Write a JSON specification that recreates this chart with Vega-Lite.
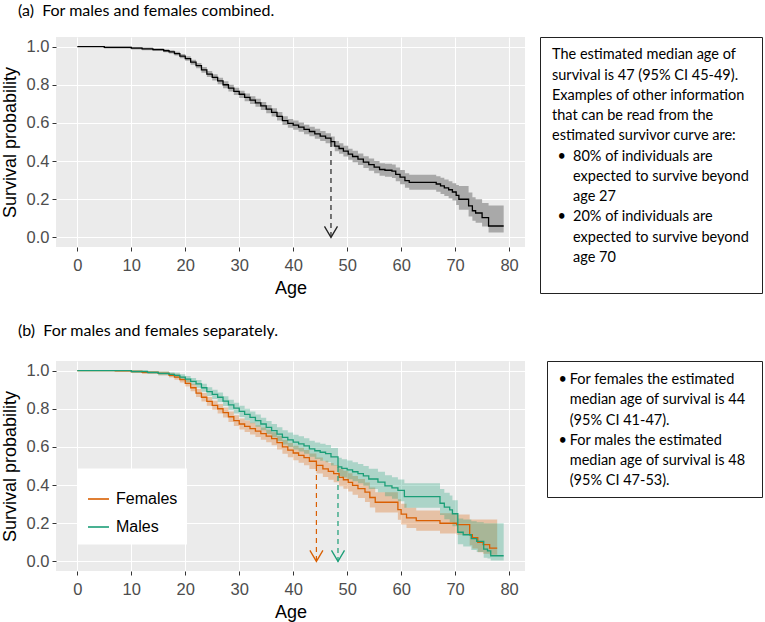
{
  "$schema": "https://vega.github.io/schema/vega-lite/v6.json",
  "padding": {"left": 1, "top": 2, "right": 0, "bottom": 0},
  "background": "white",
  "spacing": 24,
  "config": {
    "font": "Liberation Sans",
    "title": {"font": "Lato", "fontSize": 16, "fontWeight": "normal", "color": "black", "anchor": "start"},
    "axis": {"domain": false, "gridColor": "white", "tickColor": "#333333", "tickSize": 4, "labelColor": "#4d4d4d", "labelFont": "Liberation Sans", "labelFontSize": 16.5, "titleFont": "Liberation Sans", "titleFontSize": 18, "titleFontWeight": "normal", "titleColor": "black", "labelOverlap": false, "labelFlush": false, "labelBound": false}
  },
  "datasets": {
    "all": [
      {"age":0,"s":1,"lo":1,"hi":1},{"age":5,"s":0.996,"lo":0.99,"hi":1},{"age":10,"s":0.992,"lo":0.985,"hi":0.998},{"age":12,"s":0.988,"lo":0.98,"hi":0.995},{"age":14,"s":0.984,"lo":0.977,"hi":0.991},{"age":16,"s":0.978,"lo":0.97,"hi":0.986},{"age":17,"s":0.972,"lo":0.963,"hi":0.981},{"age":18,"s":0.963,"lo":0.953,"hi":0.973},{"age":19,"s":0.95,"lo":0.939,"hi":0.961},{"age":20,"s":0.937,"lo":0.925,"hi":0.949},{"age":21,"s":0.918,"lo":0.905,"hi":0.931},{"age":22,"s":0.9,"lo":0.886,"hi":0.914},{"age":23,"s":0.878,"lo":0.863,"hi":0.893},{"age":24,"s":0.856,"lo":0.84,"hi":0.872},{"age":25,"s":0.838,"lo":0.822,"hi":0.855},{"age":26,"s":0.82,"lo":0.803,"hi":0.837},{"age":27,"s":0.8,"lo":0.782,"hi":0.818},{"age":28,"s":0.782,"lo":0.764,"hi":0.8},{"age":29,"s":0.765,"lo":0.746,"hi":0.784},{"age":30,"s":0.75,"lo":0.731,"hi":0.769},{"age":31,"s":0.734,"lo":0.714,"hi":0.754},{"age":32,"s":0.719,"lo":0.699,"hi":0.739},{"age":33,"s":0.705,"lo":0.684,"hi":0.726},{"age":34,"s":0.689,"lo":0.668,"hi":0.71},{"age":35,"s":0.672,"lo":0.65,"hi":0.694},{"age":36,"s":0.655,"lo":0.633,"hi":0.677},{"age":37,"s":0.634,"lo":0.612,"hi":0.657},{"age":38,"s":0.612,"lo":0.589,"hi":0.635},{"age":39,"s":0.598,"lo":0.575,"hi":0.621},{"age":40,"s":0.588,"lo":0.564,"hi":0.612},{"age":41,"s":0.578,"lo":0.554,"hi":0.602},{"age":42,"s":0.566,"lo":0.541,"hi":0.591},{"age":43,"s":0.555,"lo":0.53,"hi":0.58},{"age":44,"s":0.543,"lo":0.517,"hi":0.569},{"age":45,"s":0.531,"lo":0.505,"hi":0.557},{"age":46,"s":0.52,"lo":0.494,"hi":0.546},{"age":47,"s":0.502,"lo":0.475,"hi":0.529},{"age":47.7,"s":0.478,"lo":0.451,"hi":0.505},{"age":48.5,"s":0.466,"lo":0.438,"hi":0.494},{"age":49.3,"s":0.452,"lo":0.424,"hi":0.48},{"age":50.2,"s":0.436,"lo":0.407,"hi":0.465},{"age":51,"s":0.424,"lo":0.394,"hi":0.454},{"age":52,"s":0.41,"lo":0.38,"hi":0.44},{"age":53,"s":0.395,"lo":0.364,"hi":0.426},{"age":54,"s":0.382,"lo":0.35,"hi":0.414},{"age":55,"s":0.368,"lo":0.336,"hi":0.4},{"age":56,"s":0.356,"lo":0.323,"hi":0.389},{"age":57,"s":0.352,"lo":0.318,"hi":0.386},{"age":58.3,"s":0.347,"lo":0.312,"hi":0.382},{"age":59,"s":0.33,"lo":0.294,"hi":0.366},{"age":59.8,"s":0.316,"lo":0.279,"hi":0.353},{"age":60.7,"s":0.298,"lo":0.26,"hi":0.336},{"age":61.5,"s":0.288,"lo":0.25,"hi":0.328},{"age":66.5,"s":0.28,"lo":0.24,"hi":0.321},{"age":67.3,"s":0.27,"lo":0.228,"hi":0.313},{"age":68,"s":0.26,"lo":0.217,"hi":0.304},{"age":68.8,"s":0.25,"lo":0.206,"hi":0.295},{"age":69.5,"s":0.238,"lo":0.193,"hi":0.284},{"age":70.2,"s":0.22,"lo":0.17,"hi":0.275},{"age":70.7,"s":0.2,"lo":0.145,"hi":0.27},{"age":72.5,"s":0.165,"lo":0.11,"hi":0.235},{"age":73.2,"s":0.14,"lo":0.088,"hi":0.21},{"age":73.8,"s":0.128,"lo":0.077,"hi":0.2},{"age":75,"s":0.104,"lo":0.057,"hi":0.18},{"age":76.2,"s":0.06,"lo":0.026,"hi":0.168},{"age":79,"s":0.06,"lo":0.026,"hi":0.168}
    ],
    "bysex": [
      {"sex":"Females","age":0,"s":1,"lo":1,"hi":1},{"sex":"Females","age":7,"s":0.998,"lo":0.994,"hi":1},{"sex":"Females","age":10,"s":0.995,"lo":0.988,"hi":1},{"sex":"Females","age":12,"s":0.99,"lo":0.982,"hi":0.998},{"sex":"Females","age":15,"s":0.985,"lo":0.975,"hi":0.995},{"sex":"Females","age":17,"s":0.975,"lo":0.963,"hi":0.987},{"sex":"Females","age":18,"s":0.966,"lo":0.952,"hi":0.98},{"sex":"Females","age":19,"s":0.952,"lo":0.937,"hi":0.967},{"sex":"Females","age":20,"s":0.933,"lo":0.916,"hi":0.95},{"sex":"Females","age":21,"s":0.91,"lo":0.891,"hi":0.929},{"sex":"Females","age":22,"s":0.882,"lo":0.861,"hi":0.903},{"sex":"Females","age":23,"s":0.86,"lo":0.838,"hi":0.882},{"sex":"Females","age":24,"s":0.838,"lo":0.815,"hi":0.861},{"sex":"Females","age":25,"s":0.818,"lo":0.794,"hi":0.842},{"sex":"Females","age":26,"s":0.8,"lo":0.775,"hi":0.825},{"sex":"Females","age":27,"s":0.78,"lo":0.754,"hi":0.806},{"sex":"Females","age":28,"s":0.758,"lo":0.731,"hi":0.785},{"sex":"Females","age":29,"s":0.738,"lo":0.71,"hi":0.766},{"sex":"Females","age":30,"s":0.72,"lo":0.691,"hi":0.749},{"sex":"Females","age":31,"s":0.708,"lo":0.678,"hi":0.738},{"sex":"Females","age":32,"s":0.696,"lo":0.665,"hi":0.727},{"sex":"Females","age":33,"s":0.683,"lo":0.652,"hi":0.714},{"sex":"Females","age":34,"s":0.67,"lo":0.638,"hi":0.702},{"sex":"Females","age":35,"s":0.657,"lo":0.624,"hi":0.69},{"sex":"Females","age":36,"s":0.643,"lo":0.609,"hi":0.677},{"sex":"Females","age":37,"s":0.622,"lo":0.587,"hi":0.657},{"sex":"Females","age":38,"s":0.6,"lo":0.564,"hi":0.636},{"sex":"Females","age":39,"s":0.583,"lo":0.546,"hi":0.62},{"sex":"Females","age":40,"s":0.568,"lo":0.53,"hi":0.606},{"sex":"Females","age":41,"s":0.556,"lo":0.517,"hi":0.595},{"sex":"Females","age":42,"s":0.544,"lo":0.504,"hi":0.584},{"sex":"Females","age":43,"s":0.525,"lo":0.484,"hi":0.566},{"sex":"Females","age":44.3,"s":0.503,"lo":0.461,"hi":0.545},{"sex":"Females","age":45.5,"s":0.485,"lo":0.442,"hi":0.528},{"sex":"Females","age":46.5,"s":0.472,"lo":0.428,"hi":0.516},{"sex":"Females","age":47.5,"s":0.46,"lo":0.415,"hi":0.505},{"sex":"Females","age":48.5,"s":0.44,"lo":0.394,"hi":0.486},{"sex":"Females","age":49.3,"s":0.428,"lo":0.381,"hi":0.475},{"sex":"Females","age":50.2,"s":0.414,"lo":0.366,"hi":0.462},{"sex":"Females","age":51,"s":0.398,"lo":0.349,"hi":0.447},{"sex":"Females","age":52,"s":0.382,"lo":0.332,"hi":0.432},{"sex":"Females","age":53.3,"s":0.363,"lo":0.312,"hi":0.414},{"sex":"Females","age":54.2,"s":0.335,"lo":0.283,"hi":0.387},{"sex":"Females","age":55.2,"s":0.31,"lo":0.257,"hi":0.363},{"sex":"Females","age":59.4,"s":0.272,"lo":0.218,"hi":0.326},{"sex":"Females","age":60,"s":0.248,"lo":0.194,"hi":0.302},{"sex":"Females","age":61,"s":0.228,"lo":0.175,"hi":0.281},{"sex":"Females","age":62.8,"s":0.214,"lo":0.161,"hi":0.267},{"sex":"Females","age":67.2,"s":0.2,"lo":0.147,"hi":0.253},{"sex":"Females","age":70.3,"s":0.193,"lo":0.14,"hi":0.246},{"sex":"Females","age":72.7,"s":0.14,"lo":0.085,"hi":0.22},{"sex":"Females","age":73.2,"s":0.125,"lo":0.068,"hi":0.22},{"sex":"Females","age":74.2,"s":0.1,"lo":0.048,"hi":0.22},{"sex":"Females","age":75.2,"s":0.088,"lo":0.04,"hi":0.22},{"sex":"Females","age":76.4,"s":0.07,"lo":0.035,"hi":0.22},{"sex":"Females","age":77.8,"s":0.07,"lo":0.035,"hi":0.22},
      {"sex":"Males","age":0,"s":1,"lo":1,"hi":1},{"sex":"Males","age":10,"s":0.995,"lo":0.988,"hi":1},{"sex":"Males","age":13,"s":0.99,"lo":0.982,"hi":0.998},{"sex":"Males","age":15,"s":0.985,"lo":0.975,"hi":0.995},{"sex":"Males","age":17,"s":0.98,"lo":0.969,"hi":0.991},{"sex":"Males","age":18,"s":0.975,"lo":0.962,"hi":0.988},{"sex":"Males","age":19,"s":0.966,"lo":0.952,"hi":0.98},{"sex":"Males","age":20,"s":0.955,"lo":0.939,"hi":0.971},{"sex":"Males","age":21,"s":0.943,"lo":0.925,"hi":0.961},{"sex":"Males","age":22,"s":0.93,"lo":0.91,"hi":0.95},{"sex":"Males","age":23,"s":0.91,"lo":0.889,"hi":0.931},{"sex":"Males","age":24,"s":0.89,"lo":0.867,"hi":0.913},{"sex":"Males","age":25,"s":0.875,"lo":0.851,"hi":0.899},{"sex":"Males","age":26,"s":0.86,"lo":0.835,"hi":0.885},{"sex":"Males","age":27,"s":0.84,"lo":0.814,"hi":0.866},{"sex":"Males","age":28,"s":0.82,"lo":0.793,"hi":0.847},{"sex":"Males","age":29,"s":0.803,"lo":0.775,"hi":0.831},{"sex":"Males","age":30,"s":0.786,"lo":0.757,"hi":0.815},{"sex":"Males","age":31,"s":0.77,"lo":0.74,"hi":0.8},{"sex":"Males","age":32,"s":0.755,"lo":0.724,"hi":0.786},{"sex":"Males","age":33,"s":0.738,"lo":0.706,"hi":0.77},{"sex":"Males","age":34,"s":0.72,"lo":0.687,"hi":0.753},{"sex":"Males","age":35,"s":0.702,"lo":0.668,"hi":0.736},{"sex":"Males","age":36,"s":0.685,"lo":0.65,"hi":0.72},{"sex":"Males","age":37,"s":0.667,"lo":0.631,"hi":0.703},{"sex":"Males","age":38,"s":0.65,"lo":0.613,"hi":0.687},{"sex":"Males","age":39,"s":0.637,"lo":0.599,"hi":0.675},{"sex":"Males","age":40,"s":0.625,"lo":0.586,"hi":0.664},{"sex":"Males","age":41,"s":0.616,"lo":0.576,"hi":0.656},{"sex":"Males","age":42,"s":0.605,"lo":0.564,"hi":0.646},{"sex":"Males","age":43,"s":0.59,"lo":0.548,"hi":0.632},{"sex":"Males","age":44,"s":0.58,"lo":0.537,"hi":0.623},{"sex":"Males","age":45,"s":0.572,"lo":0.528,"hi":0.616},{"sex":"Males","age":46,"s":0.565,"lo":0.52,"hi":0.61},{"sex":"Males","age":47,"s":0.548,"lo":0.502,"hi":0.594},{"sex":"Males","age":48.3,"s":0.495,"lo":0.447,"hi":0.543},{"sex":"Males","age":49,"s":0.488,"lo":0.44,"hi":0.536},{"sex":"Males","age":50,"s":0.48,"lo":0.431,"hi":0.529},{"sex":"Males","age":51,"s":0.47,"lo":0.42,"hi":0.52},{"sex":"Males","age":52,"s":0.46,"lo":0.409,"hi":0.511},{"sex":"Males","age":53,"s":0.448,"lo":0.396,"hi":0.5},{"sex":"Males","age":54,"s":0.432,"lo":0.379,"hi":0.485},{"sex":"Males","age":55.7,"s":0.416,"lo":0.362,"hi":0.47},{"sex":"Males","age":57,"s":0.396,"lo":0.341,"hi":0.451},{"sex":"Males","age":58.3,"s":0.385,"lo":0.329,"hi":0.441},{"sex":"Males","age":59.4,"s":0.372,"lo":0.315,"hi":0.429},{"sex":"Males","age":60.6,"s":0.34,"lo":0.281,"hi":0.41},{"sex":"Males","age":67.2,"s":0.305,"lo":0.243,"hi":0.38},{"sex":"Males","age":68,"s":0.285,"lo":0.221,"hi":0.36},{"sex":"Males","age":69,"s":0.27,"lo":0.205,"hi":0.345},{"sex":"Males","age":69.5,"s":0.25,"lo":0.185,"hi":0.32},{"sex":"Males","age":70.5,"s":0.153,"lo":0.09,"hi":0.225},{"sex":"Males","age":71.5,"s":0.14,"lo":0.078,"hi":0.22},{"sex":"Males","age":73,"s":0.12,"lo":0.06,"hi":0.21},{"sex":"Males","age":74,"s":0.105,"lo":0.05,"hi":0.205},{"sex":"Males","age":75.3,"s":0.065,"lo":0.02,"hi":0.2},{"sex":"Males","age":76,"s":0.055,"lo":0.015,"hi":0.2},{"sex":"Males","age":76.6,"s":0.03,"lo":0.005,"hi":0.2},{"sex":"Males","age":79,"s":0.03,"lo":0.005,"hi":0.2}
    ],
    "medA": [{"age":47,"top":0.5,"bottom":0}],
    "medB": [{"sex":"Females","age":44.3,"top":0.5,"bottom":0},{"sex":"Males","age":48.3,"top":0.495,"bottom":0}],
    "boxA": [
      {"col":12,"line":1,"t":"The estimated median age of"},
      {"col":12,"line":2,"t":"survival is 47 (95% CI 45-49)."},
      {"col":12,"line":3,"t":"Examples of other information"},
      {"col":12,"line":4,"t":"that can be read from the"},
      {"col":12,"line":5,"t":"estimated survivor curve are:"},
      {"col":17.5,"line":6,"t":"•"},
      {"col":33,"line":6,"t":"80% of individuals are"},
      {"col":33,"line":7,"t":"expected to survive beyond"},
      {"col":33,"line":8,"t":"age 27"},
      {"col":17.5,"line":9,"t":"•"},
      {"col":33,"line":9,"t":"20% of individuals are"},
      {"col":33,"line":10,"t":"expected to survive beyond"},
      {"col":33,"line":11,"t":"age 70"}
    ],
    "boxB": [
      {"col":11.5,"line":1,"t":"•"},
      {"col":22.7,"line":1,"t":"For females the estimated"},
      {"col":22.7,"line":2,"t":"median age of survival is 44"},
      {"col":22.7,"line":3,"t":"(95% CI 41-47)."},
      {"col":11.5,"line":4,"t":"•"},
      {"col":22.7,"line":4,"t":"For males the estimated"},
      {"col":22.7,"line":5,"t":"median age of survival is 48"},
      {"col":22.7,"line":6,"t":"(95% CI 47-53)."}
    ]
  },
  "vconcat": [
    {
      "title": {"text": "(a)\u00a0 For males and females combined.", "dx": 17, "offset": 18},
      "spacing": 14,
      "hconcat": [
        {
          "width": 469, "height": 210,
          "view": {"fill": "#ebebeb", "stroke": null},
          "data": {"name": "all"},
          "layer": [
            {
              "mark": {"type": "area", "interpolate": "step-after", "color": "#a9a9a9"},
              "encoding": {
                "x": {"field": "age", "type": "quantitative", "title": "Age", "scale": {"domain": [-3.95, 82.95], "nice": false, "zero": false},
                  "axis": {"values": [0,5,10,15,20,25,30,35,40,45,50,55,60,65,70,75,80], "labelExpr": "datum.value % 10 === 0 ? datum.label : ''", "tickOpacity": {"condition": {"test": "datum.value % 10 === 0", "value": 1}, "value": 0}, "gridWidth": {"condition": {"test": "datum.value % 10 === 0", "value": 1.1}, "value": 0.55}, "labelPadding": 6, "titlePadding": 6}},
                "y": {"field": "lo", "type": "quantitative", "title": "Survival probability", "stack": null, "scale": {"domain": [-0.05, 1.05], "nice": false, "zero": false},
                  "axis": {"values": [0,0.1,0.2,0.3,0.4,0.5,0.6,0.7,0.8,0.9,1], "format": ".1f", "labelExpr": "round(datum.value*10) % 2 === 0 ? datum.label : ''", "tickOpacity": {"condition": {"test": "round(datum.value*10) % 2 === 0", "value": 1}, "value": 0}, "gridWidth": {"condition": {"test": "round(datum.value*10) % 2 === 0", "value": 1.1}, "value": 0.55}, "labelPadding": 3, "titlePadding": 7}},
                "y2": {"field": "hi"}
              }
            },
            {
              "mark": {"type": "line", "interpolate": "step-after", "color": "black", "strokeWidth": 1.3},
              "encoding": {"x": {"field": "age", "type": "quantitative"}, "y": {"field": "s", "type": "quantitative"}}
            },
            {
              "data": {"name": "medA"},
              "mark": {"type": "rule", "strokeDash": [5, 4], "color": "#222222", "strokeWidth": 1.2},
              "encoding": {"x": {"field": "age", "type": "quantitative"}, "y": {"field": "top", "type": "quantitative"}, "y2": {"field": "bottom"}}
            },
            {
              "data": {"name": "medA"},
              "mark": {"type": "point", "shape": "M-1,-1.7L0,0L1,-1.7", "filled": false, "size": 169, "color": "#222222", "strokeWidth": 1.3, "opacity": 1},
              "encoding": {"x": {"field": "age", "type": "quantitative"}, "y": {"field": "bottom", "type": "quantitative"}}
            }
          ]
        },
        {
          "width": 222, "height": 256,
          "view": {"stroke": "#222222", "strokeWidth": 1, "fill": "white"},
          "data": {"name": "boxA"},
          "mark": {"type": "text", "align": "left", "baseline": "middle", "font": "Lato", "fontSize": 14.5, "color": "black"},
          "encoding": {
            "x": {"field": "col", "type": "quantitative", "scale": {"domain": [0, 222]}, "axis": null},
            "y": {"field": "line", "type": "quantitative", "scale": {"domain": [0.1, 12.733], "reverse": true}, "axis": null},
            "text": {"field": "t"}
          }
        }
      ]
    },
    {
      "title": {"text": "(b)\u00a0 For males and females separately.", "dx": 17, "offset": 22},
      "spacing": 21,
      "hconcat": [
        {
          "width": 469, "height": 210,
          "view": {"fill": "#ebebeb", "stroke": null},
          "data": {"name": "bysex"},
          "layer": [
            {
              "mark": {"type": "area", "interpolate": "step-after", "fillOpacity": 0.3},
              "encoding": {
                "x": {"field": "age", "type": "quantitative", "title": "Age", "scale": {"domain": [-3.95, 82.95], "nice": false, "zero": false},
                  "axis": {"values": [0,5,10,15,20,25,30,35,40,45,50,55,60,65,70,75,80], "labelExpr": "datum.value % 10 === 0 ? datum.label : ''", "tickOpacity": {"condition": {"test": "datum.value % 10 === 0", "value": 1}, "value": 0}, "gridWidth": {"condition": {"test": "datum.value % 10 === 0", "value": 1.1}, "value": 0.55}, "labelPadding": 6, "titlePadding": 6}},
                "y": {"field": "lo", "type": "quantitative", "title": "Survival probability", "stack": null, "scale": {"domain": [-0.05, 1.05], "nice": false, "zero": false},
                  "axis": {"values": [0,0.1,0.2,0.3,0.4,0.5,0.6,0.7,0.8,0.9,1], "format": ".1f", "labelExpr": "round(datum.value*10) % 2 === 0 ? datum.label : ''", "tickOpacity": {"condition": {"test": "round(datum.value*10) % 2 === 0", "value": 1}, "value": 0}, "gridWidth": {"condition": {"test": "round(datum.value*10) % 2 === 0", "value": 1.1}, "value": 0.55}, "labelPadding": 3, "titlePadding": 7}},
                "y2": {"field": "hi"},
                "color": {"field": "sex", "type": "nominal", "scale": {"domain": ["Females", "Males"], "range": ["#D95F02", "#1B9E77"]}}
              }
            },
            {
              "mark": {"type": "line", "interpolate": "step-after", "strokeWidth": 1.3},
              "encoding": {
                "x": {"field": "age", "type": "quantitative"},
                "y": {"field": "s", "type": "quantitative"},
                "color": {"field": "sex", "type": "nominal",
                  "legend": {"title": " ", "titleFontSize": 6, "titlePadding": 4, "orient": "none", "legendX": 22, "legendY": 431.5, "fillColor": "white", "padding": 9, "symbolType": "stroke", "symbolSize": 440, "symbolStrokeWidth": 1.6, "symbolOpacity": 1, "labelFont": "Liberation Sans", "labelFontSize": 16, "labelColor": "black", "labelOffset": 6, "rowPadding": 8}}
              }
            },
            {
              "data": {"name": "medB"},
              "mark": {"type": "rule", "strokeDash": [5, 4], "strokeWidth": 1.2},
              "encoding": {"x": {"field": "age", "type": "quantitative"}, "y": {"field": "top", "type": "quantitative"}, "y2": {"field": "bottom"},
                "color": {"field": "sex", "type": "nominal"}}
            },
            {
              "data": {"name": "medB"},
              "mark": {"type": "point", "shape": "M-1,-1.7L0,0L1,-1.7", "filled": false, "size": 169, "strokeWidth": 1.3, "opacity": 1},
              "encoding": {"x": {"field": "age", "type": "quantitative"}, "y": {"field": "bottom", "type": "quantitative"},
                "color": {"field": "sex", "type": "nominal"}}
            }
          ]
        },
        {
          "width": 215, "height": 136,
          "view": {"stroke": "#222222", "strokeWidth": 1, "fill": "white"},
          "data": {"name": "boxB"},
          "mark": {"type": "text", "align": "left", "baseline": "middle", "font": "Lato", "fontSize": 14.5, "color": "black"},
          "encoding": {
            "x": {"field": "col", "type": "quantitative", "scale": {"domain": [0, 215]}, "axis": null},
            "y": {"field": "line", "type": "quantitative", "scale": {"domain": [0.045, 6.779], "reverse": true}, "axis": null},
            "text": {"field": "t"}
          }
        }
      ]
    }
  ]
}
